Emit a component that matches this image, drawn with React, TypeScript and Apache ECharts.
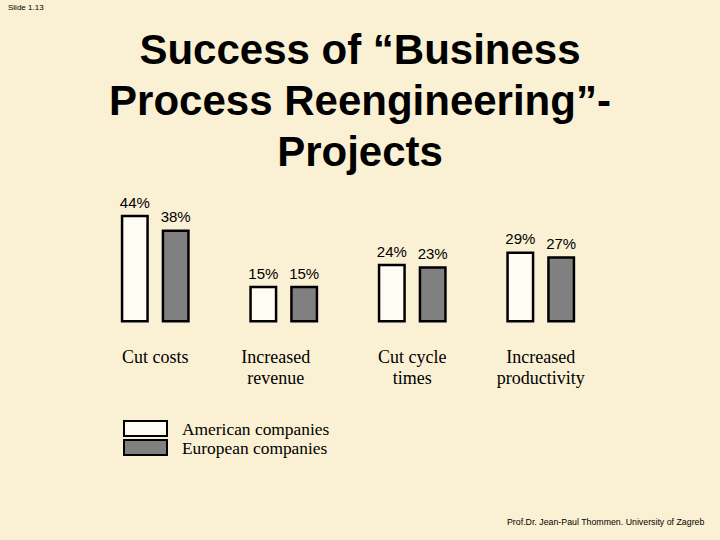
import React, { useEffect, useRef } from "react";
import * as echarts from "echarts";

const categories = ["Cut costs", "Increased\nrevenue", "Cut cycle\ntimes", "Increased\nproductivity"];
const americanValues = [44, 15, 24, 29];
const europeanValues = [38, 15, 23, 27];
const seriesNames = ["American companies", "European companies"];
const titleText = "Success of “Business\nProcess Reengineering”-\nProjects";
const slideText = "Slide 1.13";
const footerText = "Prof.Dr. Jean-Paul Thommen. University of Zagreb";

const BG = "#FAF0D4";
const SERIF = "'Liberation Serif', 'Times New Roman', serif";
const SANS = "'Liberation Sans', Arial, sans-serif";

export default function App() {
  const ref = useRef<HTMLDivElement>(null);
  useEffect(() => {
    if (!ref.current) return;
    const chart = echarts.init(ref.current, undefined, { renderer: "svg" });
    const labelCfg = {
      show: true,
      position: "top",
      distance: 5,
      formatter: "{c}%",
      fontFamily: SANS,
      fontSize: 15,
      color: "#000",
    };
    chart.setOption({
      animation: false,
      backgroundColor: BG,
      title: {
        text: titleText,
        left: 360,
        top: 24,
        padding: 0,
        textAlign: "center",
        textStyle: {
          fontFamily: SANS,
          fontWeight: "bold",
          fontSize: 42,
          lineHeight: 51,
          color: "#000",
        },
      },
      graphic: [
        {
          type: "text",
          left: 8,
          top: 3,
          style: { text: slideText, font: `8px ${SANS}`, fill: "#000" },
        },
        {
          type: "text",
          left: 507,
          top: 517,
          style: { text: footerText, font: `8.8px ${SANS}`, fill: "#000" },
        },
      ],
      legend: {
        data: seriesNames,
        orient: "vertical",
        left: 123,
        top: 419,
        padding: 0,
        itemWidth: 43,
        itemHeight: 15,
        itemGap: 0,
        icon: "rect",
        textStyle: {
          fontFamily: SERIF,
          fontSize: 17.4,
          lineHeight: 19,
          color: "#000",
          padding: [0, 0, 0, 10],
        },
      },
      grid: { left: 91, width: 514, top: 77.5, bottom: 217.5 },
      xAxis: {
        type: "category",
        data: categories.map((c, i) =>
          i === 1 ? { value: c, textStyle: { padding: [0, 16, 0, 0] } } : c
        ),
        axisLine: { show: false },
        axisTick: { show: false },
        splitLine: { show: false },
        axisLabel: {
          fontFamily: SERIF,
          fontSize: 18,
          lineHeight: 21,
          margin: 24,
          color: "#000",
          interval: 0,
          verticalAlign: "top",
        },
      },
      yAxis: { type: "value", min: 0, max: 100, show: false },
      series: [
        {
          name: seriesNames[0],
          type: "bar",
          data: americanValues,
          barWidth: 28,
          barGap: "46%",
          itemStyle: { color: "#FFFDF3", borderColor: "#000", borderWidth: 2.5 },
          label: labelCfg,
        },
        {
          name: seriesNames[1],
          type: "bar",
          data: europeanValues,
          barWidth: 28,
          barGap: "46%",
          itemStyle: { color: "#808080", borderColor: "#000", borderWidth: 2.5 },
          label: labelCfg,
        },
      ],
    });
    return () => chart.dispose();
  }, []);
  return (
    <div
      ref={ref}
      style={{ position: "fixed", left: 0, top: 0, width: 720, height: 540, background: BG }}
    />
  );
}
